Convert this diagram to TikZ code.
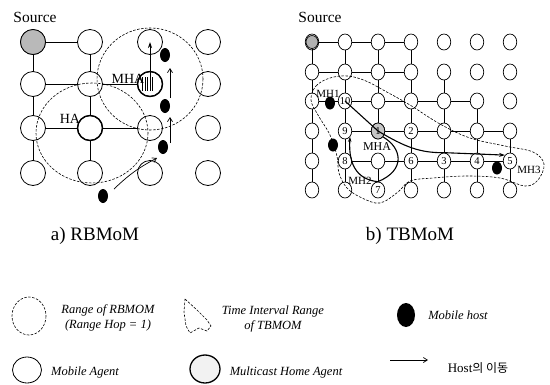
\documentclass[tikz,border=0pt]{standalone}
\usepackage{fontspec}
\setmainfont{Liberation Serif}
\newfontfamily\krfont{Noto Sans CJK KR}
\usetikzlibrary{shapes.geometric,arrows.meta}
\begin{document}
\begin{tikzpicture}[x=1pt,y=-1pt,
  agA/.style={ellipse,draw,line width=0.8pt,minimum width=25pt,minimum height=25pt,inner sep=0pt},
  agB/.style={ellipse,draw,line width=0.7pt,minimum width=13.5pt,minimum height=16pt,inner sep=0pt},
  hostA/.style={ellipse,fill=black,minimum width=10pt,minimum height=14pt,inner sep=0pt},
  hostB/.style={ellipse,fill=black,minimum width=10pt,minimum height=13pt,inner sep=0pt},
  edgeA/.style={line width=0.9pt},
  edgeB/.style={line width=0.7pt},
  rangeline/.style={dashed,dash pattern=on 2.5pt off 1.5pt,line width=0.6pt},
  numlbl/.style={inner sep=0pt,font=\fontsize{10.5}{10.5}\selectfont},
  lblA/.style={inner sep=0pt,font=\fontsize{14}{14}\selectfont},
  lblB/.style={inner sep=0pt,font=\fontsize{11}{11}\selectfont},
  srclbl/.style={inner sep=0pt,font=\fontsize{15.5}{15.5}\selectfont},
  caption/.style={inner sep=0pt,font=\fontsize{19}{19}\selectfont},
  legtxt/.style={inner sep=0pt,align=center,font=\fontsize{12.5}{15}\selectfont\itshape},
  movearrow/.style={line width=0.7pt,-{Straight Barb[length=4pt,width=5pt]}}
]
\useasboundingbox (0,0) rectangle (550,384);

% ---------------- panel a ----------------
\foreach \r/\y in {1/42,2/84,3/128,4/173}{
  \foreach \c/\x in {1/33,2/90,3/150,4/208}{
    \node[agA] (a\r\c) at (\x,\y) {};
  }
}
\node[agA,fill=gray!55] (a11) at (33,42) {};
\node[agA,line width=1.4pt] (a23) at (150,84) {};
\node[agA,line width=1.4pt] (a32) at (90,128) {};
\foreach \x in {142.5,145,147.5,150,152.5}{\draw[line width=0.5pt] (\x,77) -- (\x,91);}

\foreach \p/\q in {11/12,11/21,21/22,12/22,22/23,22/32,21/31,31/32,32/33,32/42,31/41}{
  \draw[edgeA] (a\p) -- (a\q);
}

\draw[rangeline] (92,133) ellipse [x radius=56, y radius=50];
\draw[rangeline] (150,79) ellipse [x radius=53, y radius=51];

\node[srclbl] (srcA) at (35,17) {Source};
\node[lblA] (mhaA) at (128,79) {MHA};
\node[lblA] (haA) at (70,119) {HA};

\node[hostA] (hA1) at (165,55) {};
\node[hostA] (hA2) at (165,106) {};
\node[hostA] (hA3) at (163,147) {};
\node[hostA] (hA4) at (103,196) {};

\draw[line width=0.8pt,-{Stealth[length=6pt,width=4pt]}] (a23.center) ++(0,3) -- (a13.center);
\coordinate (mA1s) at (170,143);
\coordinate (mA1e) at (170,117);
\coordinate (mA2s) at (170,98);
\coordinate (mA2e) at (170,68);
\draw[movearrow] (mA1s) -- (mA1e);
\draw[movearrow] (mA2s) -- (mA2e);
\coordinate (mA3s) at (114,189);
\coordinate (mA3e) at (157,158);
\draw[movearrow] (mA3s) to[bend left=8] (mA3e);

\node[caption] (capA) at (95,236) {a) RBMoM};

% ---------------- panel b ----------------
\foreach \r/\y in {1/42,2/72,3/101,4/131,5/161,6/190}{
  \foreach \c/\x in {1/312,2/345,3/378,4/411,5/444,6/477,7/510}{
    \node[agB] (b\r\c) at (\x,\y) {};
  }
}
\node[agB,fill=gray!60,minimum width=12pt,minimum height=13pt] (b11) at (312,42) {};
\node[agB,fill=gray!45] (b43) at (378,131) {};

\foreach \p/\q in {11/12,12/13,13/14,21/22,22/23,23/24,31/32,32/33,33/34,34/35,35/36,
  42/43,43/44,44/45,45/46,46/47,52/53,53/54,54/55,55/56,56/57,
  11/21,21/31,31/41,41/51,51/61,12/22,22/32,32/42,42/52,52/62,
  13/23,23/33,33/43,53/63,14/24,24/34,34/44,44/54,54/64,
  25/35,35/45,45/55,55/65,36/46,46/56,56/66,47/57,57/67}{
  \draw[edgeB] (b\p) -- (b\q);
}

\foreach \n/\t in {32/10,42/9,43/1,44/2,52/8,54/6,55/3,56/4,57/5,63/7}{
  \node[numlbl] at (b\n) {\t};
}

\draw[rangeline] plot[smooth cycle,tension=0.6] coordinates {
  (311,100) (316,86) (330,78) (348,76) (366,81) (385,91) (410,105) (440,124)
  (470,138) (505,146) (533,152) (544,164) (538,180) (525,186) (500,178)
  (467,176) (433,178) (410,181) (398,192) (380,203) (362,198) (347,188)
  (339,173) (337,156) (330,135) (318,115)};

\node[hostB] (hB1) at (330,103) {};
\node[hostB] (hB2) at (333,145) {};
\node[hostB] (hB3) at (497,168) {};

\draw[line width=1.1pt,-{Stealth[length=6pt,width=4pt]}] (b32.center) -- (b43.center)
  .. controls (405,147) and (420,153) .. (b55.north) -- (b57.north west);
\draw[line width=1.1pt,-{Stealth[length=5pt,width=3.5pt]}] (b43.south east)
  .. controls (402,148) and (406,170) .. (b63.north)
  .. controls (360,180) and (348,168) .. (b42.south east);

\node[srclbl] (srcB) at (320,17) {Source};
\node[lblB] (mh1) at (328,94) {MH1};
\node[lblB,font=\fontsize{12}{12}\selectfont] (mhaB) at (377,147) {MHA};
\node[lblB] (mh2) at (360,181) {MH2};
\node[lblB] (mh3) at (529,170) {MH3};

\node[caption] (capB) at (410,236) {b) TBMoM};

% ---------------- legend ----------------
\draw[rangeline] (29,316) ellipse [x radius=17, y radius=19];
\node[legtxt] (lg1) at (108,318) {Range of RBMOM\\(Range Hop = 1)};
\draw[rangeline] (185,299) -- (197,310) -- (207,320) -- (211,326) -- (207,331)
  -- (199,328) -- (190,333) -- (186,326) -- (184,312) -- cycle;
\node[legtxt] (lg2) at (273,319) {Time Interval Range\\of TBMOM};
\node[ellipse,fill=black,minimum width=18pt,minimum height=24pt,inner sep=0pt] (lghost) at (406,315) {};
\node[legtxt] (lg3) at (458,315) {Mobile host};

\node[ellipse,draw,line width=0.8pt,minimum width=29pt,minimum height=26pt,inner sep=0pt] (lgag) at (27,370) {};
\node[legtxt] (lg4) at (85,372) {Mobile Agent};
\node[ellipse,draw,line width=1.3pt,fill=gray!10,minimum width=30pt,minimum height=28pt,inner sep=0pt] (lgmha) at (205,369) {};
\node[legtxt] (lg5) at (286,372) {Multicast Home Agent};
\coordinate (lgas) at (390,360);
\coordinate (lgae) at (428,360);
\draw[movearrow] (lgas) -- (lgae);
\node[inner sep=0pt,font=\fontsize{13}{13}\selectfont] (lg6) at (478,368) {Host{\krfont\fontsize{12}{12}\selectfont 의 이동}};
\end{tikzpicture}
\end{document}
